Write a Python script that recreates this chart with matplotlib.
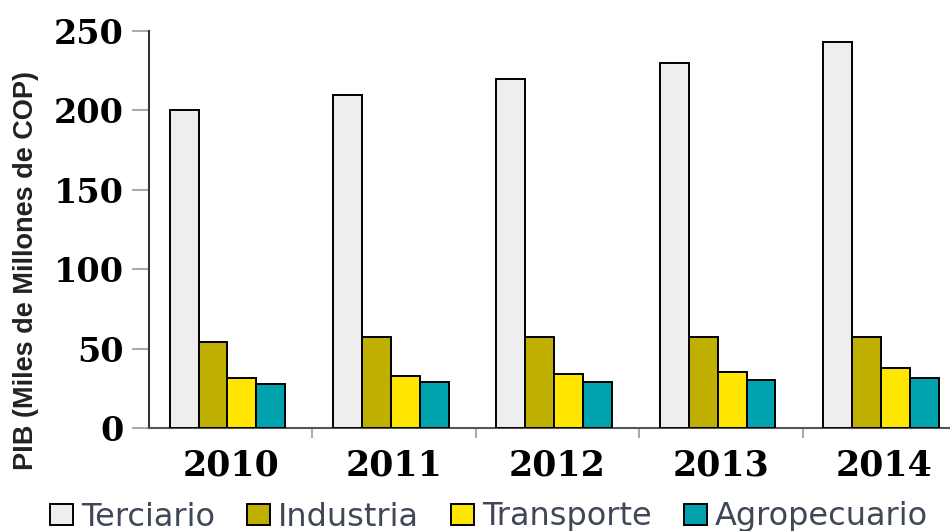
import numpy as np
import matplotlib
matplotlib.use("Agg")
import matplotlib.pyplot as plt
from matplotlib.ticker import FixedLocator

# data
years = ["2010", "2011", "2012", "2013", "2014"]
sectors = ["Terciario", "Industria", "Transporte", "Agropecuario"]
terciario = [200, 210, 220, 230, 243]
industria = [54, 57, 57, 57, 57]
transporte = [31.5, 32.5, 34, 35.5, 38]
agropecuario = [28, 29, 29, 30, 31.5]
colors = ["#eeeeee", "#bfaf00", "#ffe600", "#00a3ad"]

series = [terciario, industria, transporte, agropecuario]

fig = plt.figure(figsize=(9.5, 5.31), dpi=100)
ax = fig.add_axes([149 / 950, 103 / 531, 817 / 950, 397 / 531])

x = np.arange(len(years))
w = 0.177
for i, vals in enumerate(series):
    ax.bar(x + (i - 1.5) * w - 0.02, vals, width=w, color=colors[i],
           edgecolor="black", linewidth=1.4, label=sectors[i], zorder=3)

ax.set_xlim(-0.5, 4.5)
ax.set_ylim(0, 250)
ax.set_yticks([0, 50, 100, 150, 200, 250])

serif = {"family": "DejaVu Serif", "weight": "bold", "size": 24}
ax.set_yticklabels(["0", "50", "100", "150", "200", "250"], fontdict=serif)
ax.set_xticks(x)
ax.set_xticklabels(years, fontdict={**serif, "size": 25})
ax.xaxis.set_minor_locator(FixedLocator([0.5, 1.5, 2.5, 3.5]))

ax.tick_params(axis="y", length=12, width=1.5, color="#aaaaaa", pad=6)
ax.tick_params(axis="x", which="major", length=0, pad=15)
ax.tick_params(axis="x", which="minor", length=7, width=1.5, color="#aaaaaa")

for s in ["top", "right"]:
    ax.spines[s].set_visible(False)
ax.spines["left"].set_color("#333333")
ax.spines["left"].set_linewidth(1.5)
ax.spines["bottom"].set_color("#555555")
ax.spines["bottom"].set_linewidth(1.5)

fig.text(26 / 950, 260 / 531, "PIB (Miles de Millones de COP)", rotation=90,
         ha="center", va="center", fontsize=19.5, fontweight="bold",
         family=["Liberation Sans", "DejaVu Sans"], color="#222222")

leg = fig.legend(loc="center", bbox_to_anchor=(489 / 950, 14 / 531), ncol=4,
                 frameon=False, handlelength=0.72, handleheight=0.65,
                 handletextpad=0.25, columnspacing=1.0, borderaxespad=0,
                 prop={"family": "DejaVu Sans", "size": 23})
for t in leg.get_texts():
    t.set_color("#404858")

fig.savefig("out.png", dpi=100)
